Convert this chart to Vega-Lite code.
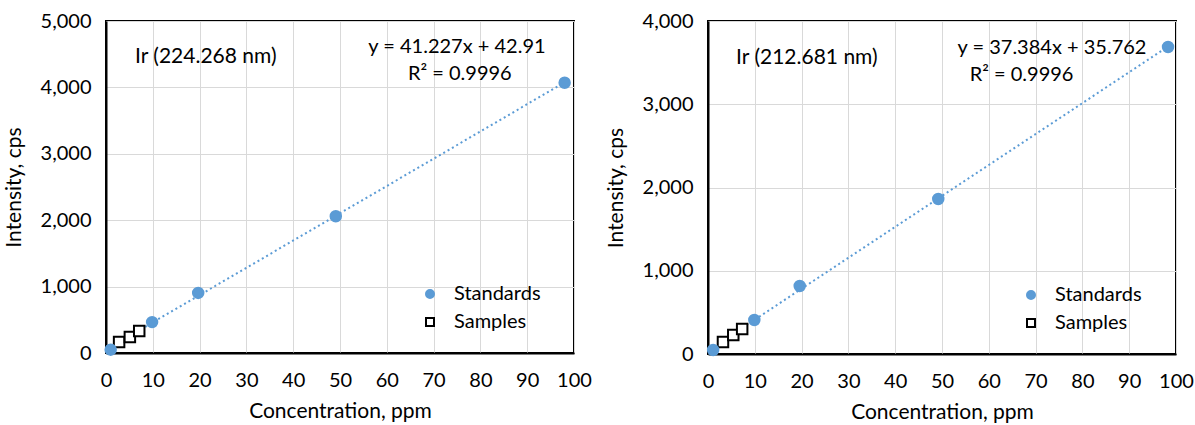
{
  "$schema": "https://vega.github.io/schema/vega-lite/v6.json",
  "padding": {"left": 2, "top": 10, "right": 0, "bottom": 0},
  "spacing": 11,
  "config": {
    "font": "Lato",
    "view": {"stroke": "black", "strokeWidth": 2},
    "axis": {
      "labelFont": "Lato", "labelFontSize": 20, "labelColor": "#000000",
      "titleFont": "Lato", "titleFontSize": 21, "titleFontWeight": "normal", "titleColor": "#000000",
      "gridColor": "#D9D9D9", "gridWidth": 1, "ticks": false, "labelFlush": false, "labelOverlap": false,
      "domainColor": "black", "domainWidth": 2
    },
    "axisX": {"labelPadding": 17, "titlePadding": 10},
    "axisY": {"labelPadding": 15, "titlePadding": 16, "labelExpr": "datum.value == 0 ? '0' : floor(datum.value / 1000) + ',000'"},
    "legend": {"labelFont": "Lato", "labelFontSize": 20, "labelColor": "#000000"}
  },
  "hconcat": [
    {
      "width": 468, "height": 332,
      "encoding": {
        "x": {"field": "conc", "type": "quantitative", "scale": {"domain": [0, 100]},
              "axis": {"values": [0,10,20,30,40,50,60,70,80,90,100], "title": "Concentration, ppm"}},
        "y": {"field": "intensity", "type": "quantitative", "scale": {"domain": [0, 5000]},
              "axis": {"values": [0,1000,2000,3000,4000,5000], "title": "Intensity, cps"}}
      },
      "layer": [
        {
          "data": {"values": [
            {"conc": 1.0, "intensity": 50},
            {"conc": 9.85, "intensity": 465},
            {"conc": 19.7, "intensity": 905},
            {"conc": 49.1, "intensity": 2060},
            {"conc": 98.0, "intensity": 4070}
          ]},
          "transform": [{"regression": "intensity", "on": "conc", "method": "linear"}],
          "mark": {"type": "line", "color": "#5B9BD5", "strokeDash": [2, 3], "strokeWidth": 2},
          "encoding": {}
        },
        {
          "data": {"values": [
            {"conc": 1.0, "intensity": 50, "series": "Standards"},
            {"conc": 9.85, "intensity": 465, "series": "Standards"},
            {"conc": 19.7, "intensity": 905, "series": "Standards"},
            {"conc": 49.1, "intensity": 2060, "series": "Standards"},
            {"conc": 98.0, "intensity": 4070, "series": "Standards"},
            {"conc": 2.8, "intensity": 166, "series": "Samples"},
            {"conc": 5.1, "intensity": 241, "series": "Samples"},
            {"conc": 7.1, "intensity": 331, "series": "Samples"}
          ]},
          "mark": {"type": "point", "strokeWidth": 2, "size": 110, "opacity": 1},
          "encoding": {
            "shape": {"field": "series", "type": "nominal", "scale": {"domain": ["Standards", "Samples"], "range": ["circle", "square"]},
                      "legend": {"title": null, "orient": "none", "legendX": 314, "legendY": 263, "symbolStrokeWidth": 2, "symbolSize": 64, "labelOffset": 14, "rowPadding": 8}},
            "fill": {"field": "series", "type": "nominal", "scale": {"domain": ["Standards", "Samples"], "range": ["#5B9BD5", "#FFFFFF"]},
                     "legend": {"title": null, "orient": "none", "legendX": 314, "legendY": 263, "symbolStrokeWidth": 2, "symbolSize": 64, "labelOffset": 14, "rowPadding": 8}},
            "stroke": {"field": "series", "type": "nominal", "scale": {"domain": ["Standards", "Samples"], "range": ["#5B9BD5", "#000000"]},
                       "legend": {"title": null, "orient": "none", "legendX": 314, "legendY": 263, "symbolStrokeWidth": 2, "symbolSize": 64, "labelOffset": 14, "rowPadding": 8}},
            "order": {"field": "series", "type": "nominal", "sort": "ascending"}
          }
        },
        {
          "data": {"values": [
            {"conc": 6.2, "intensity": 4458, "label": "Ir (224.268 nm)"}
          ]},
          "mark": {"type": "text", "align": "left", "baseline": "middle", "fontSize": 21, "font": "Lato"},
          "encoding": {"text": {"field": "label"}}
        },
        {
          "data": {"values": [
            {"conc": 75.0, "intensity": 4608, "label": "y = 41.227x + 42.91"},
            {"conc": 75.6, "intensity": 4202, "label": "R² = 0.9996"}
          ]},
          "mark": {"type": "text", "align": "center", "baseline": "middle", "fontSize": 20, "font": "Lato"},
          "encoding": {"text": {"field": "label"}}
        }
      ]
    },
    {
      "width": 468, "height": 333,
      "encoding": {
        "x": {"field": "conc", "type": "quantitative", "scale": {"domain": [0, 100]},
              "axis": {"values": [0,10,20,30,40,50,60,70,80,90,100], "title": "Concentration, ppm"}},
        "y": {"field": "intensity", "type": "quantitative", "scale": {"domain": [0, 4000]},
              "axis": {"values": [0,1000,2000,3000,4000], "title": "Intensity, cps"}}
      },
      "layer": [
        {
          "data": {"values": [
            {"conc": 1.1, "intensity": 48},
            {"conc": 9.9, "intensity": 408},
            {"conc": 19.6, "intensity": 817},
            {"conc": 49.2, "intensity": 1862},
            {"conc": 98.3, "intensity": 3688}
          ]},
          "transform": [{"regression": "intensity", "on": "conc", "method": "linear"}],
          "mark": {"type": "line", "color": "#5B9BD5", "strokeDash": [2, 3], "strokeWidth": 2},
          "encoding": {}
        },
        {
          "data": {"values": [
            {"conc": 1.1, "intensity": 48, "series": "Standards"},
            {"conc": 9.9, "intensity": 408, "series": "Standards"},
            {"conc": 19.6, "intensity": 817, "series": "Standards"},
            {"conc": 49.2, "intensity": 1862, "series": "Standards"},
            {"conc": 98.3, "intensity": 3688, "series": "Standards"},
            {"conc": 3.2, "intensity": 144, "series": "Samples"},
            {"conc": 5.4, "intensity": 228, "series": "Samples"},
            {"conc": 7.3, "intensity": 300, "series": "Samples"}
          ]},
          "mark": {"type": "point", "strokeWidth": 2, "size": 110, "opacity": 1},
          "encoding": {
            "shape": {"field": "series", "type": "nominal", "scale": {"domain": ["Standards", "Samples"], "range": ["circle", "square"]},
                      "legend": {"title": null, "orient": "none", "legendX": 313, "legendY": 264, "symbolStrokeWidth": 2, "symbolSize": 64, "labelOffset": 14, "rowPadding": 8}},
            "fill": {"field": "series", "type": "nominal", "scale": {"domain": ["Standards", "Samples"], "range": ["#5B9BD5", "#FFFFFF"]},
                     "legend": {"title": null, "orient": "none", "legendX": 313, "legendY": 264, "symbolStrokeWidth": 2, "symbolSize": 64, "labelOffset": 14, "rowPadding": 8}},
            "stroke": {"field": "series", "type": "nominal", "scale": {"domain": ["Standards", "Samples"], "range": ["#5B9BD5", "#000000"]},
                       "legend": {"title": null, "orient": "none", "legendX": 313, "legendY": 264, "symbolStrokeWidth": 2, "symbolSize": 64, "labelOffset": 14, "rowPadding": 8}},
            "order": {"field": "series", "type": "nominal", "sort": "ascending"}
          }
        },
        {
          "data": {"values": [
            {"conc": 6.0, "intensity": 3555, "label": "Ir (212.681 nm)"}
          ]},
          "mark": {"type": "text", "align": "left", "baseline": "middle", "fontSize": 21, "font": "Lato"},
          "encoding": {"text": {"field": "label"}}
        },
        {
          "data": {"values": [
            {"conc": 73.5, "intensity": 3676, "label": "y = 37.384x + 35.762"},
            {"conc": 67.0, "intensity": 3351, "label": "R² = 0.9996"}
          ]},
          "mark": {"type": "text", "align": "center", "baseline": "middle", "fontSize": 20, "font": "Lato"},
          "encoding": {"text": {"field": "label"}}
        }
      ]
    }
  ],
  "resolve": {"legend": {"shape": "independent", "fill": "independent", "stroke": "independent"}}
}
